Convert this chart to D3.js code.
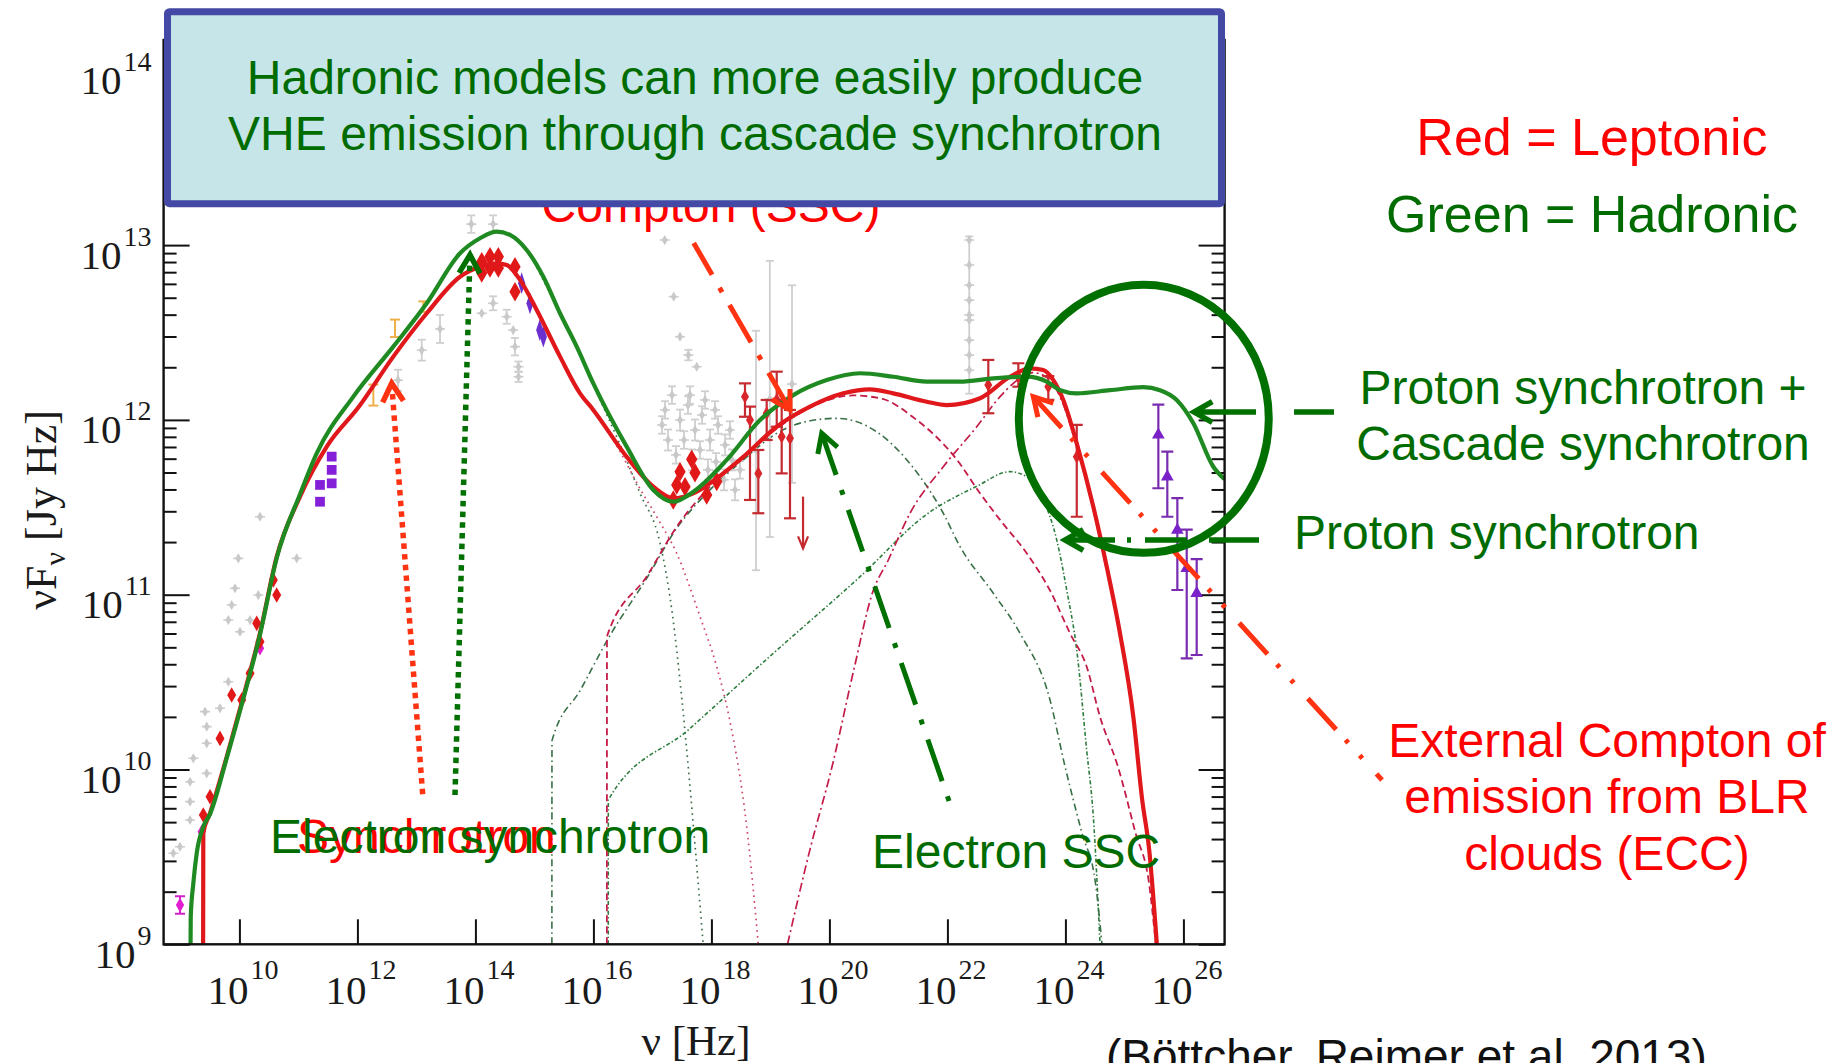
<!DOCTYPE html>
<html>
<head>
<meta charset="utf-8">
<script src="https://cdn.jsdelivr.net/npm/d3@7/dist/d3.min.js"></script>
<style>
  html, body { margin: 0; padding: 0; background: #ffffff; }
  svg { display: block; }
</style>
</head>
<body>
<svg id="sed" width="1835" height="1063"></svg>
<script>
// ---------- model curves: [log10 nu (Hz), log10 nuFnu (Jy Hz)] ----------
const leptonicTotal = [[9.385,9.0],[9.388,9.637],[9.502,9.751],[9.785,10.073],[10.066,10.416],[10.349,10.781],[10.632,11.217],[11.027,11.561],[11.48,11.847],[12.027,12.076],[12.608,12.362],[13.175,12.61],[13.739,12.819],[14.078,12.876],[14.361,12.896],[14.531,12.886],[14.756,12.801],[15.039,12.629],[15.434,12.362],[15.773,12.152],[15.998,12.057],[16.564,11.789],[17.015,11.618],[17.354,11.552],[17.693,11.58],[18.09,11.666],[18.541,11.789],[19.107,11.961],[19.671,12.076],[20.236,12.152],[20.688,12.175],[21.083,12.152],[21.649,12.104],[21.988,12.085],[22.553,12.124],[23.061,12.247],[23.4,12.295],[23.626,12.285],[23.795,12.228],[23.964,12.114],[24.192,11.866],[24.473,11.503],[24.7,11.16],[24.925,10.779],[25.151,10.302],[25.3,9.83],[25.42,9.54],[25.55,9.0]];
const hadronicTotal = [[9.172,9.0],[9.175,9.158],[9.219,9.349],[9.276,9.521],[9.388,9.673],[9.502,9.745],[9.785,10.065],[10.066,10.405],[10.349,10.772],[10.632,11.21],[11.027,11.575],[11.31,11.809],[11.931,12.133],[12.608,12.419],[13.175,12.667],[13.739,12.953],[14.078,13.039],[14.361,13.077],[14.586,13.058],[14.869,12.972],[15.151,12.819],[15.434,12.61],[15.717,12.419],[15.998,12.209],[16.564,11.847],[17.015,11.599],[17.354,11.532],[17.693,11.589],[18.259,11.771],[18.824,11.999],[19.388,12.142],[19.954,12.228],[20.519,12.267],[21.083,12.247],[21.649,12.219],[22.214,12.219],[22.778,12.238],[23.344,12.247],[23.683,12.219],[23.909,12.17],[24.192,12.152],[24.756,12.17],[25.32,12.187],[25.603,12.17],[25.886,12.114],[26.168,11.981],[26.507,11.732],[26.698,11.66]];
const synchrotronLeptonic = [[15.0,12.65],[15.434,12.362],[15.773,12.152],[16.0,12.05],[16.4,11.85],[16.8,11.6],[17.1,11.43],[17.412,11.237],[17.807,10.874],[18.09,10.588],[18.31,10.283],[18.598,9.673],[18.795,9.0]];
const synchrotronHadronic = [[15.0,12.9],[15.434,12.61],[15.717,12.419],[16.0,12.2],[16.45,11.86],[16.79,11.58],[17.13,11.294],[17.33,10.91],[17.5,10.4],[17.69,9.694],[17.86,9.0]];
const sscLeptonic = [[16.228,9.0],[16.23,10.761],[16.914,11.11],[17.412,11.389],[17.976,11.618],[18.536,11.789],[19.107,11.95],[19.67,12.07],[20.4,12.14],[20.9,12.12],[21.408,12.018],[22.163,11.771],[22.553,11.58],[22.892,11.428],[23.344,11.237],[23.739,11.024],[24.078,10.779],[24.361,10.588],[24.586,10.302],[24.89,10.016],[25.19,9.635],[25.417,9.349],[25.532,9.0]];
const sscHadronic = [[15.296,9.0],[15.298,10.165],[15.78,10.455],[16.271,10.761],[16.914,11.1],[17.412,11.38],[17.976,11.6],[18.536,11.77],[19.107,11.923],[19.6,11.99],[20.124,12.009],[20.8,11.932],[21.408,11.732],[21.93,11.466],[22.214,11.275],[22.778,11.008],[23.231,10.779],[23.739,10.398],[23.981,10.035],[24.281,9.635],[24.51,9.349],[24.62,9.0]];
const protonSynchrotron = [[16.251,9.0],[16.253,9.826],[17.62,10.23],[19.0,10.65],[20.519,11.103],[21.649,11.46],[22.497,11.62],[23.061,11.704],[23.344,11.675],[23.626,11.542],[23.853,11.313],[24.022,11.027],[24.192,10.684],[24.36,10.112],[24.473,9.73],[24.587,9.0]];
const externalCompton = [[19.29,9.0],[19.668,9.539],[20.044,10.016],[20.425,10.588],[20.727,11.008],[21.0,11.2],[21.366,11.466],[21.93,11.732],[22.497,11.961],[22.892,12.133],[23.117,12.209],[23.45,12.27],[23.7,12.24],[23.95,12.1],[24.19,11.85],[24.47,11.49],[24.7,11.14],[24.93,10.76],[25.15,10.29],[25.3,9.82],[25.42,9.52],[25.53,9.0]];

// ---------- observations: [log10 nu, log10 nuFnu, half error (dex)] ----------
const archivalPoints = [[8.88,9.521,0],[8.993,9.558,0],[9.163,9.711,0],[9.163,9.816,0],[9.163,9.93,0],[9.446,9.978,0],[9.219,10.064,0],[9.446,10.15,0],[9.446,10.245,0],[9.417,10.331,0],[9.671,10.35,0],[9.812,10.502,0],[10.01,10.788,0],[9.812,10.855,0],[10.18,10.855,0],[9.869,10.941,0],[10.349,11.446,0],[9.981,11.208,0],[10.971,11.208,0],[9.925,11.037,0],[10.32,10.998,0],
  [12.688,12.227,0.06],[13.09,12.399,0.06],[13.4,12.52,0.08],[13.93,13.12,0.05],[14.3,13.12,0.05],[14.3,12.667,0.04],[14.107,12.61,0],[14.53,12.59,0.04],[14.64,12.514,0],[14.67,12.419,0.05],[14.73,12.304,0.03],[14.73,12.247,0.03],
  [17.214,12.057,0.05],[17.332,12.142,0.05],[17.468,11.999,0.06],[17.603,12.085,0.05],[17.722,11.942,0.06],[17.841,12.028,0.05],[17.976,11.885,0.06],[18.112,11.971,0.05],[18.231,11.857,0.06],[18.349,11.771,0.06],[17.265,11.885,0.06],[17.4,11.8,0.05],[17.536,11.885,0.05],[17.671,11.771,0.06],[17.807,11.828,0.05],[17.942,11.714,0.06],[18.078,11.76,0.05],[18.214,11.657,0.06],[18.4,11.6,0.06],[17.163,11.971,0.05],[17.637,12.142,0.05],[17.892,12.114,0.05],[18.061,12.057,0.05],[18.315,11.942,0.05],[18.485,11.714,0.05],
  [17.468,12.476,0],[17.609,12.371,0.03],[17.751,12.304,0],[17.208,13.029,0],[17.361,12.705,0],
  [18.756,11.825,0.685],[18.99,12.12,0.79],[19.366,12.205,0.565],
  [22.37,12.6,0.45],[22.37,13.029,0],[22.37,12.886,0],[22.37,12.771,0],[22.37,12.685,0],[22.37,12.571,0],[22.37,12.456,0],[22.37,12.371,0],[22.37,12.285,0]];
const radioFlux = [[9.388,9.74],[9.502,9.844],[9.671,10.178],[9.869,10.426],[10.039,10.398],[10.18,10.55],[10.293,10.836],[10.349,10.731],[10.575,11.084],[10.632,10.998]];
const opticalFlux = [[14.107,12.905],[14.247,12.934],[14.388,12.934],[14.107,12.84],[14.247,12.869],[14.388,12.869],[14.671,12.876],[14.671,12.733]];
const xrayFlux = [[17.468,11.704],[17.666,11.775],[17.722,11.698],[17.412,11.628],[17.553,11.618],[17.92,11.571],[18.09,11.647],[17.354,11.542]];
// [log10 nu, log10 nuFnu, upper bar, lower bar]
const gammaFlux = [[18.569,12.133,12.209,12.018],[18.654,11.999,12.076,11.542],[18.795,11.694,11.828,11.466],[18.937,12.038,12.114,11.885],[19.107,12.114,12.276,11.961],[19.191,11.904,12.114,11.694],[19.332,11.895,12.057,11.437],[22.693,12.2,12.343,12.038],[23.202,12.247,12.324,12.19],[23.71,12.19,12.251,12.114],[24.192,11.789,11.971,11.446]];
const gammaUpperLimit = [[19.553,11.561,11.265]];
const submmFlux = [[11.564,11.79],[11.564,11.714],[11.564,11.637],[11.366,11.628],[11.366,11.532]];
const uvFlux = [[14.784,12.782],[14.925,12.667],[15.09,12.514],[15.151,12.476]];
const vheFlux = [[25.575,11.914,12.087,11.609],[25.727,11.675,11.818,11.446],[25.897,11.37,11.552,11.027],[26.056,11.151,11.372,10.636],[26.225,11.008,11.203,10.655]];
const lowFreqFlux = [[8.993,9.225,0.05],[10.349,10.693,0],[9.361,9.644,0]];
const irFlux = [[12.637,12.524,0.05],[12.27,12.142,0.06],[13.117,12.648,0.03]];

// ---------- axis ticks ----------
const xTickExponents = [10,12,14,16,18,20,22,24,26];
const yTickExponents = [9,10,11,12,13,14];

const svg = d3.select("#sed");
svg.append("rect").attr("width",1835).attr("height",1063).attr("fill","#ffffff");

const plot = {left:163.6, right:1224.6, bottom:944.3, top:40};
const x = d3.scaleLog().domain([Math.pow(10,8.715), Math.pow(10,26.698)]).range([plot.left, plot.right]);
const y = d3.scaleLog().domain([1e9,1e14]).range([plot.bottom, 70.3]);
const X = v => x(Math.pow(10, v));
const Y = v => y(Math.pow(10, v));

svg.append("clipPath").attr("id","plotclip").append("rect")
  .attr("x",plot.left).attr("y",plot.top)
  .attr("width",plot.right-plot.left).attr("height",plot.bottom-plot.top);

const serif = "'Liberation Serif','Times New Roman',serif";
const sans = "'Liberation Sans',Arial,sans-serif";

// ---------- axes ----------
const yMajor = yTickExponents.map(e => Math.pow(10,e));
const yMinor = [];
for (let e = 9; e < 14; e++) for (let k = 2; k <= 9; k++) yMinor.push(k*Math.pow(10,e));
const xMajor = xTickExponents.map(e => Math.pow(10,e));

function styleAxis(g){
  g.select(".domain").remove();
  g.selectAll(".tick line").attr("stroke","#111").attr("stroke-width",2);
}
function powerLabel(sel, baseSize, expSize, lift){
  sel.each(function(d){
    const t = d3.select(this);
    const e = Math.round(Math.log10(d));
    t.text(null).attr("font-family",serif).attr("fill","#1a1a1a").attr("dy",null);
    t.append("tspan").attr("font-size",baseSize).text("10");
    t.append("tspan").attr("font-size",expSize).attr("dx",2).attr("dy",-lift).text(e);
  });
}

svg.append("g").attr("transform",`translate(${plot.left},0)`)
  .call(d3.axisLeft(y).tickValues(yMinor).tickSize(-13).tickFormat(()=>""))
  .call(styleAxis);
const yAx = svg.append("g").attr("transform",`translate(${plot.left},0)`)
  .call(d3.axisLeft(y).tickValues(yMajor).tickSize(-26).tickPadding(12))
  .call(styleAxis);
yAx.selectAll(".tick text").attr("x",-12).attr("y",23).attr("text-anchor","end")
  .call(powerLabel, 41, 28, 23);

svg.append("g").attr("transform",`translate(${plot.right},0)`)
  .call(d3.axisRight(y).tickValues(yMinor).tickSize(-13).tickFormat(()=>""))
  .call(styleAxis);
svg.append("g").attr("transform",`translate(${plot.right},0)`)
  .call(d3.axisRight(y).tickValues(yMajor).tickSize(-26).tickFormat(()=>""))
  .call(styleAxis);

const xAx = svg.append("g").attr("transform",`translate(0,${plot.bottom})`)
  .call(d3.axisBottom(x).tickValues(xMajor).tickSize(-25))
  .call(styleAxis);
xAx.selectAll(".tick text").attr("y",60).attr("x",3).attr("text-anchor","middle")
  .call(powerLabel, 41, 28, 25);

// ---------- component curves ----------
const line = d3.line().x(d => X(d[0])).y(d => Y(d[1])).curve(d3.curveMonotoneX);
const comp = svg.append("g").attr("clip-path","url(#plotclip)").attr("fill","none");
const components = [
  {data: synchrotronLeptonic, color:"#cf4466", dash:"1.6,4.2", w:1.7},
  {data: synchrotronHadronic, color:"#3d6e48", dash:"1.6,4.2", w:1.7},
  {data: protonSynchrotron,   color:"#2f7d3e", dash:"4,2.2,1.4,2.2", w:1.6},
  {data: sscHadronic,         color:"#3a7048", dash:"7,3.5,1.6,3.5", w:1.6},
  {data: sscLeptonic,         color:"#c41c48", dash:"7,4", w:1.8},
  {data: externalCompton,     color:"#c41c48", dash:"9,3.5,2,3.5", w:1.7}
];
components.forEach(c => comp.append("path").attr("d", line(c.data))
  .attr("stroke", c.color).attr("stroke-width", c.w).attr("stroke-dasharray", c.dash));

// ---------- observations ----------
const obs = svg.append("g").attr("clip-path","url(#plotclip)");
const sym = (type, size) => d3.symbol().type(type).size(size)();

function errorBar(g, xv, hi, lo, color, w, cap){
  g.append("line").attr("x1",X(xv)).attr("x2",X(xv)).attr("y1",Y(hi)).attr("y2",Y(lo))
    .attr("stroke",color).attr("stroke-width",w);
  if (cap > 0) [hi, lo].forEach(v => g.append("line")
    .attr("x1",X(xv)-cap).attr("x2",X(xv)+cap).attr("y1",Y(v)).attr("y2",Y(v))
    .attr("stroke",color).attr("stroke-width",w));
}

archivalPoints.forEach(d => {
  if (d[2] > 0) errorBar(obs, d[0], d[1]+d[2], d[1]-d[2], "#cfcfcf", 1.8, 4);
  obs.append("line").attr("x1",X(d[0])-5).attr("x2",X(d[0])+5).attr("y1",Y(d[1])).attr("y2",Y(d[1]))
    .attr("stroke","#cdcdcd").attr("stroke-width",1.6);
  obs.append("path").attr("d", sym(d3.symbolDiamond, 30))
    .attr("transform",`translate(${X(d[0])},${Y(d[1])})`).attr("fill","#c9c9c9");
});
irFlux.forEach(d => {
  if (d[2] > 0) errorBar(obs, d[0], d[1]+d[2], d[1]-d[2], "#eeb04a", 2, 5);
});
lowFreqFlux.forEach(d => {
  if (d[2] > 0) errorBar(obs, d[0], d[1]+d[2], d[1]-d[2], "#d020c8", 2, 5);
  obs.append("path").attr("d", sym(d3.symbolDiamond, 60))
    .attr("transform",`translate(${X(d[0])},${Y(d[1])})`).attr("fill","#e020d0");
});
submmFlux.forEach(d => obs.append("path").attr("d", sym(d3.symbolSquare, 95))
  .attr("transform",`translate(${X(d[0])},${Y(d[1])})`).attr("fill","#8420d8"));
uvFlux.forEach(d => obs.append("path").attr("d", sym(d3.symbolDiamond, 70))
  .attr("transform",`translate(${X(d[0])},${Y(d[1])}) scale(0.8,1.4)`).attr("fill","#6a30d0"));
gammaFlux.forEach(d => {
  errorBar(obs, d[0], d[2], d[3], "#c42a30", 2.2, 6);
  obs.append("path").attr("d", sym(d3.symbolDiamond, 55))
    .attr("transform",`translate(${X(d[0])},${Y(d[1])})`).attr("fill","#d8262a");
});
gammaUpperLimit.forEach(d => {
  obs.append("line").attr("x1",X(d[0])).attr("x2",X(d[0])).attr("y1",Y(d[1])).attr("y2",Y(d[2]))
    .attr("stroke","#c42a30").attr("stroke-width",2.2);
  obs.append("polyline").attr("points",`${X(d[0])-5},${Y(d[2])-12} ${X(d[0])},${Y(d[2])} ${X(d[0])+5},${Y(d[2])-12}`)
    .attr("fill","none").attr("stroke","#c42a30").attr("stroke-width",2.2);
});
vheFlux.forEach(d => {
  errorBar(obs, d[0], d[2], d[3], "#7a2cb0", 2.2, 6);
  obs.append("path").attr("d", sym(d3.symbolTriangle, 70))
    .attr("transform",`translate(${X(d[0])},${Y(d[1])})`).attr("fill","#7a22c8");
});
[radioFlux, opticalFlux, xrayFlux].forEach((set, i) => set.forEach(d =>
  obs.append("path").attr("d", sym(d3.symbolDiamond, i === 0 ? 70 : 110))
    .attr("transform",`translate(${X(d[0])},${Y(d[1])})`).attr("fill","#e01818")));

// ---------- total model curves ----------
const totals = svg.append("g").attr("clip-path","url(#plotclip)").attr("fill","none");
totals.append("path").attr("d", line(leptonicTotal)).attr("stroke","#e0181c").attr("stroke-width",4.2);
totals.append("path").attr("d", line(hadronicTotal)).attr("stroke","#1f8a22").attr("stroke-width",4.2);

// ---------- frame ----------
svg.append("rect").attr("x",plot.left).attr("y",plot.top)
  .attr("width",plot.right-plot.left).attr("height",plot.bottom-plot.top)
  .attr("fill","none").attr("stroke","#111").attr("stroke-width",2.4);

// ---------- axis titles ----------
svg.append("text").attr("transform","translate(56,510) rotate(-90)").attr("text-anchor","middle")
  .attr("font-family",serif).attr("font-size",44).attr("fill","#1a1a1a")
  .call(t => {
    t.append("tspan").text("νF");
    t.append("tspan").attr("font-size",30).attr("dy",9).text("ν");
    t.append("tspan").attr("dy",-9).text(" [Jy Hz]");
  });
svg.append("text").attr("x",696).attr("y",1055).attr("text-anchor","middle")
  .attr("font-family",serif).attr("font-size",43).attr("fill","#1a1a1a").text("ν [Hz]");

// ---------- annotations (tail -> tip, in log10 data units) ----------
const GREEN = "#007000", ORANGE = "#ff3312";
const annotationArrows = [
  {tail:[13.107,9.854], tip:[12.581,12.209], color:ORANGE, dash:"5.5,5.2", w:5.5},
  {tail:[13.654,9.854], tip:[13.908,12.944], color:GREEN, dash:"5.5,5.2", w:5.5},
  {tail:[17.70,13.012], tip:[19.332,12.057], color:ORANGE, dash:"43,15,5,15", w:5},
  {tail:[22.09,9.759], tip:[19.87,11.923], color:GREEN, dash:"44,16,5,16", w:5},
  {tail:[28.552,12.045], tip:[26.18,12.045], color:GREEN, dash:"62,38,41,20", w:5.5},
  {tail:[27.484,11.313], tip:[23.993,11.313], color:GREEN, dash:"50,12,4,14,42,22", w:5.5},
  {tail:[29.366,9.94], tip:[23.456,12.133], color:ORANGE, dash:"42,14,4,17,4,21", w:5}
];
const ann = svg.append("g").attr("fill","none");
annotationArrows.forEach(a => {
  const x0 = X(a.tail[0]), y0 = Y(a.tail[1]), x1 = X(a.tip[0]), y1 = Y(a.tip[1]);
  ann.append("line").attr("x1",x1).attr("y1",y1).attr("x2",x0).attr("y2",y0)
    .attr("stroke",a.color).attr("stroke-width",a.w).attr("stroke-dasharray",a.dash);
  const ang = Math.atan2(y0-y1, x0-x1), L = 21, h = 0.52;
  ann.append("polyline")
    .attr("points",`${x1+L*Math.cos(ang+h)},${y1+L*Math.sin(ang+h)} ${x1},${y1} ${x1+L*Math.cos(ang-h)},${y1+L*Math.sin(ang-h)}`)
    .attr("stroke",a.color).attr("stroke-width",a.w).attr("stroke-linejoin","miter");
});
ann.append("ellipse").attr("cx",X(25.328)).attr("cy",Y(12.006)).attr("rx",125).attr("ry",134)
  .attr("stroke",GREEN).attr("stroke-width",8);

// ---------- text labels ----------
function label(txt, xp, yp, color, size, anchor){
  svg.append("text").attr("x",xp).attr("y",yp).attr("fill",color)
    .attr("font-family",sans).attr("font-size",size).attr("text-anchor",anchor || "start").text(txt);
}
const TXT_GREEN = "#006c00", TXT_RED = "#ff0000";
label("Compton (SSC)", 711, 222, TXT_RED, 48, "middle");
label("Synchrotron", 297, 853, TXT_RED, 48);
label("Electron synchrotron", 270, 853, TXT_GREEN, 48);
label("Electron SSC", 872, 868, TXT_GREEN, 48);
label("Red = Leptonic", 1592, 155, TXT_RED, 52, "middle");
label("Green = Hadronic", 1592, 232, TXT_GREEN, 52, "middle");
label("Proton synchrotron +", 1583, 404, TXT_GREEN, 48, "middle");
label("Cascade synchrotron", 1583, 460, TXT_GREEN, 48, "middle");
label("Proton synchrotron", 1294, 549, TXT_GREEN, 48);
label("External Compton of", 1607, 757, TXT_RED, 48, "middle");
label("emission from BLR", 1607, 813, TXT_RED, 48, "middle");
label("clouds (ECC)", 1607, 870, TXT_RED, 48, "middle");
label("(Böttcher, Reimer et al. 2013)", 1106, 1072, "#111111", 46);

// ---------- headline box ----------
svg.append("rect").attr("x",167.5).attr("y",11.7).attr("width",1054).attr("height",192).attr("rx",2)
  .attr("fill","#c5e5e8").attr("stroke","#4349a5").attr("stroke-width",7);
label("Hadronic models can more easily produce", 695, 94, TXT_GREEN, 48, "middle");
label("VHE emission through cascade synchrotron", 695, 150, TXT_GREEN, 48, "middle");
</script>
</body>
</html>
